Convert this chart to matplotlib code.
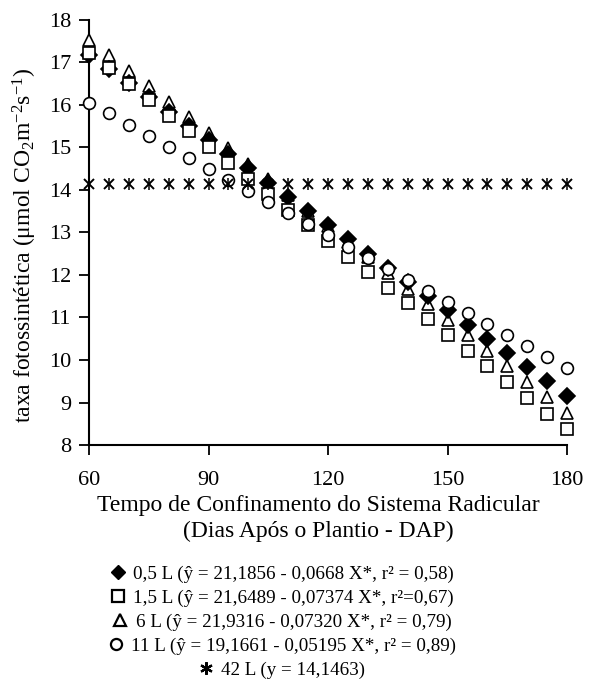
import matplotlib
matplotlib.use("Agg")
import matplotlib.pyplot as plt
from matplotlib.lines import Line2D

plt.rcParams['font.family'] = ['Liberation Serif', 'DejaVu Serif']
plt.rcParams['mathtext.fontset'] = 'custom'
plt.rcParams['mathtext.rm'] = 'Liberation Serif'
plt.rcParams['mathtext.it'] = 'Liberation Serif:italic'
plt.rcParams['mathtext.bf'] = 'Liberation Serif:bold'

days = [60, 65, 70, 75, 80, 85, 90, 95, 100, 105, 110, 115, 120,
        125, 130, 135, 140, 145, 150, 155, 160, 165, 170, 175, 180]

v_05L = [17.18, 16.84, 16.51, 16.18, 15.84, 15.51, 15.17, 14.84, 14.51, 14.17,
         13.84, 13.50, 13.17, 12.84, 12.50, 12.17, 11.83, 11.50, 11.17, 10.83,
         10.50, 10.16, 9.83, 9.50, 9.16]
v_15L = [17.22, 16.86, 16.49, 16.12, 15.75, 15.38, 15.01, 14.64, 14.27, 13.91,
         13.54, 13.17, 12.80, 12.43, 12.06, 11.69, 11.33, 10.96, 10.59, 10.22,
         9.85, 9.48, 9.11, 8.74, 8.38]
v_6L = [17.54, 17.17, 16.81, 16.44, 16.08, 15.71, 15.34, 14.98, 14.61, 14.25,
        13.88, 13.51, 13.15, 12.78, 12.42, 12.05, 11.68, 11.32, 10.95, 10.59,
        10.22, 9.85, 9.49, 9.12, 8.76]
v_11L = [16.05, 15.80, 15.54, 15.27, 15.01, 14.75, 14.49, 14.23, 13.97, 13.71,
         13.45, 13.19, 12.93, 12.67, 12.41, 12.15, 11.89, 11.63, 11.37, 11.11,
         10.85, 10.59, 10.33, 10.07, 9.82]
v_42L = [14.15, 14.15, 14.15, 14.15, 14.15, 14.15, 14.15, 14.15, 14.15, 14.15,
         14.15, 14.15, 14.15, 14.15, 14.15, 14.15, 14.15, 14.15, 14.15, 14.15,
         14.15, 14.15, 14.15, 14.15, 14.15]

legend_labels = [
    "0,5 L (ŷ = 21,1856 - 0,0668 X*, r² = 0,58)",
    "1,5 L (ŷ = 21,6489 - 0,07374 X*, r²=0,67)",
    "6 L (ŷ = 21,9316 - 0,07320 X*, r² = 0,79)",
    "11 L (ŷ = 19,1661 - 0,05195 X*, r² = 0,89)",
    "42 L (y = 14,1463)",
]
x_ticks = [60, 90, 120, 150, 180]
y_ticks = [8, 9, 10, 11, 12, 13, 14, 15, 16, 17, 18]

fig = plt.figure(figsize=(5.89, 6.82), dpi=100)
ax = fig.add_axes([0.151, 0.3475, 0.812, 0.6232])

ms = 8.5
common = dict(linestyle='none', clip_on=False, markeredgewidth=1.2)
ax.plot(days, v_6L, marker='^', markersize=ms + 0.5, markerfacecolor='white',
        markeredgecolor='black', zorder=3, **common)
ax.plot(days, v_05L, marker='D', markersize=ms - 0.8, markerfacecolor='black',
        markeredgecolor='black', zorder=4, **common)
ax.plot(days, v_15L, marker='s', markersize=ms - 0.3, markerfacecolor='white',
        markeredgecolor='black', zorder=5, **common)
ax.plot(days, v_11L, marker='o', markersize=ms, markerfacecolor='white',
        markeredgecolor='black', zorder=6, **common)
ax.plot(days, v_42L, marker='x', markersize=ms - 1, color='black', zorder=7,
        linestyle='none', clip_on=False, markeredgewidth=1.4)
ax.plot(days, v_42L, marker='|', markersize=ms + 0.5, color='black', zorder=7,
        linestyle='none', clip_on=False, markeredgewidth=1.1)

ax.set_xlim(60, 180)
ax.set_ylim(8, 18)
ax.set_xticks(x_ticks)
ax.set_yticks(y_ticks)
for s in ['top', 'right']:
    ax.spines[s].set_visible(False)
for s in ['left', 'bottom']:
    ax.spines[s].set_linewidth(1.5)
ax.tick_params(axis='both', direction='out', length=7, width=1.3,
               labelsize=16)
ax.tick_params(axis='x', pad=12)
ax.tick_params(axis='y', pad=6)

ax.set_ylabel(r'taxa fotossintética ($\mathrm{\mu}$mol CO$_2$m$^{-2}$s$^{-1}$)',
              fontsize=17)
ax.yaxis.set_label_coords(-0.105, 0.47)
ax.set_xlabel('Tempo de Confinamento do Sistema Radicular\n(Dias Após o Plantio - DAP)',
              fontsize=17, linespacing=1.3)
ax.xaxis.set_label_coords(0.48, -0.118, transform=ax.transAxes)
ax.xaxis.label.set_verticalalignment('top')

handles = [
    Line2D([], [], marker='D', markersize=7, color='black', linestyle='none'),
    Line2D([], [], marker='s', markersize=8, markerfacecolor='white',
           markeredgecolor='black', markeredgewidth=1.6, linestyle='none'),
    Line2D([], [], marker='^', markersize=9, markerfacecolor='white',
           markeredgecolor='black', markeredgewidth=1.6, linestyle='none'),
    Line2D([], [], marker='o', markersize=8, markerfacecolor='white',
           markeredgecolor='black', markeredgewidth=1.6, linestyle='none'),
    Line2D([], [], marker=(6, 2, 0), markersize=9, color='black',
           markeredgewidth=1.6, linestyle='none'),
]
y_centres = [574, 598, 622, 646, 670]
for h, lab, yc in zip(handles, legend_labels, y_centres):
    fig.legend([h], [lab], loc='center', bbox_to_anchor=(282 / 589, 1 - yc / 682),
               frameon=False, fontsize=13.7, handlelength=0.8, handletextpad=0.4,
               borderpad=0, borderaxespad=0)

fig.savefig('out.png', dpi=100)
